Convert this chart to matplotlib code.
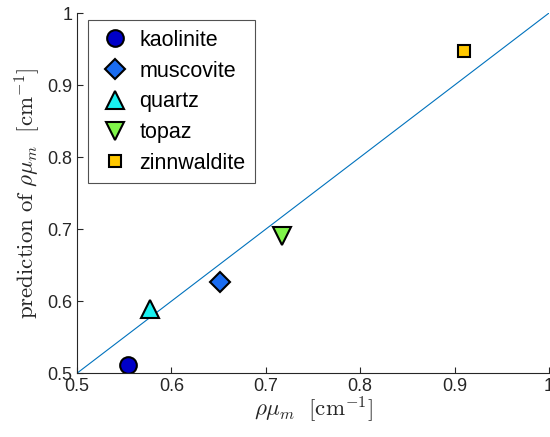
import matplotlib.pyplot as plt
import numpy as np

plt.rcParams['font.family'] = ['Liberation Sans', 'DejaVu Sans']
plt.rcParams['mathtext.fontset'] = 'cm'

minerals = ['kaolinite', 'muscovite', 'quartz', 'topaz', 'zinnwaldite']
measured = [0.554, 0.651, 0.577, 0.717, 0.910]
predicted = [0.511, 0.626, 0.589, 0.691, 0.948]
markers = ['o', 'D', '^', 'v', 's']
sizes = [12, 10, 13, 13, 8]
colors = ['#0000c8', '#1a6cf0', '#19f0f0', '#80f54a', '#ffc800']

fig = plt.figure(figsize=(5.5, 4.37), dpi=100)
ax = fig.add_axes([0.14, 0.146, 0.858, 0.824])

ref = np.array([0.5, 1.0])
ax.plot(ref, ref, color='#0072bd', lw=0.8)

for name, x, y, m, s, c in zip(minerals, measured, predicted, markers, sizes, colors):
    ax.plot(x, y, marker=m, ms=s, mfc=c, mec='k', mew=1.5, ls='none', label=name)

ax.set_xlim(0.5, 1)
ax.set_ylim(0.5, 1)
ax.set_xticks([0.5, 0.6, 0.7, 0.8, 0.9, 1])
ax.set_yticks([0.5, 0.6, 0.7, 0.8, 0.9, 1])
ax.set_xticklabels(['0.5', '0.6', '0.7', '0.8', '0.9', '1'])
ax.set_yticklabels(['0.5', '0.6', '0.7', '0.8', '0.9', '1'])
ax.tick_params(direction='in', labelsize=13, colors='#262626', length=4)
for sp in ['top', 'right']:
    ax.spines[sp].set_visible(False)
for sp in ['left', 'bottom']:
    ax.spines[sp].set_color('#262626')

ax.set_xlabel(r'$\rho\mu_m\ \ [\mathrm{cm}^{-1}]$', fontsize=16.5, color='#262626', labelpad=0)
ax.set_ylabel(r'$\mathrm{prediction\ of}\ \rho\mu_m\ \ [\mathrm{cm}^{-1}]$', fontsize=16.5,
              color='#262626', labelpad=3)

leg = ax.legend(loc='upper left', bbox_to_anchor=(0.023, 0.98), borderaxespad=0, fontsize=15.5,
                frameon=True, fancybox=False, edgecolor='#262626', handletextpad=0.35,
                borderpad=0.45, labelspacing=0.45, handlelength=1.6)
leg.get_frame().set_linewidth(0.8)

fig.savefig('out.png', dpi=100)
